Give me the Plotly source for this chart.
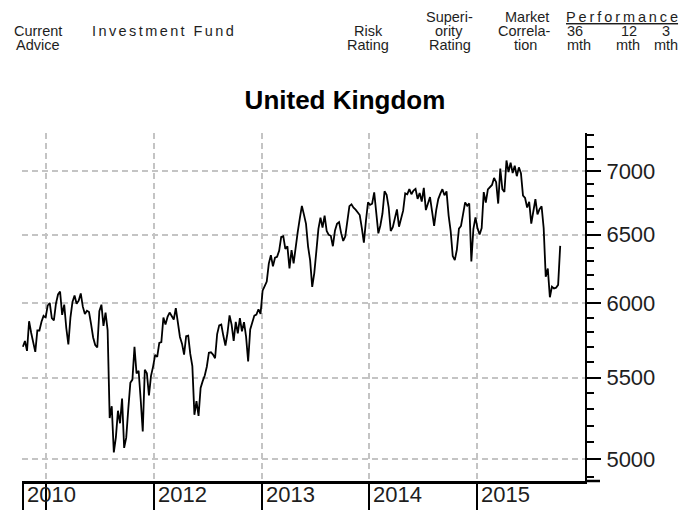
import math
import pandas as pd
import plotly.graph_objects as go

# ---------------- data (weekly index closes) ----------------
series_start = "2010-10-15"

ftse_2010 = [5703, 5741, 5675, 5875, 5797, 5732, 5669, 5813, 5812, 5872, 5912, 5900]
ftse_2011 = [5984, 6002, 5896, 5881, 5997, 6062, 6083, 5919, 5990, 5829, 5718, 5900,
             6009, 6055, 5996, 6018, 6069, 5976, 5925, 5948, 5938, 5855, 5765, 5714,
             5698, 5945, 5990, 5844, 5935, 5815, 5247, 5320, 5040, 5130, 5292, 5215,
             5368, 5067, 5128, 5303, 5467, 5488, 5702, 5527, 5545, 5362, 5165, 5552,
             5529, 5387, 5512, 5572]
ftse_2012 = [5649, 5636, 5729, 5734, 5901, 5852, 5905, 5935, 5912, 5887, 5966, 5854,
             5768, 5723, 5651, 5773, 5777, 5655, 5575, 5267, 5351, 5260, 5435, 5478,
             5514, 5571, 5663, 5666, 5651, 5627, 5788, 5847, 5853, 5776, 5711, 5795,
             5915, 5852, 5742, 5871, 5793, 5896, 5806, 5869, 5770, 5605, 5819, 5867,
             5914, 5921, 5958, 5926]
ftse_2013 = [6089, 6121, 6154, 6284, 6347, 6264, 6328, 6335, 6379, 6483, 6489, 6393,
             6412, 6249, 6384, 6286, 6426, 6522, 6625, 6723, 6654, 6583, 6411, 6308,
             6116, 6215, 6375, 6544, 6631, 6554, 6647, 6529, 6499, 6492, 6413, 6530,
             6583, 6596, 6512, 6453, 6487, 6623, 6721, 6735, 6708, 6693, 6675, 6651,
             6552, 6440, 6607, 6750]
ftse_2014 = [6731, 6740, 6829, 6663, 6510, 6572, 6663, 6838, 6810, 6712, 6528, 6557,
             6615, 6695, 6561, 6625, 6685, 6822, 6814, 6856, 6815, 6844, 6858, 6778,
             6825, 6757, 6866, 6690, 6749, 6792, 6679, 6567, 6689, 6776, 6820, 6855,
             6806, 6837, 6649, 6527, 6340, 6310, 6388, 6546, 6567, 6654, 6750, 6723,
             6742, 6300, 6545, 6633]
ftse_2015 = [6548, 6501, 6550, 6832, 6749, 6853, 6873, 6889, 6946, 6911, 6741, 7022,
             6855, 6833, 7089, 6994, 7070, 6986, 7046, 6960, 7032, 6984, 6804, 6785,
             6710, 6754, 6585, 6673, 6775, 6656, 6696, 6719, 6551, 6188, 6248, 6042,
             6117, 6105, 6110, 6130, 6416]

y_tick_values = [5000, 5500, 6000, 6500, 7000]
y_tick_labels = ["5000", "5500", "6000", "6500", "7000"]
y_minor_values = [v for v in range(4900, 7400, 100) if v % 500 != 0]

x_tick_dates = ["2010-10-15", "2011-01-01", "2012-01-01", "2013-01-01", "2014-01-01", "2015-01-01"]
x_tick_labels = ["2010", "", "2012", "2013", "2014", "2015"]

title_text = "United Kingdom"

# ---------------- build ----------------
values = ftse_2010 + ftse_2011 + ftse_2012 + ftse_2013 + ftse_2014 + ftse_2015
dates = pd.date_range(start=series_start, periods=len(values), freq="7D")

W, H = 690, 510
L, R, T, B = 22, 585, 133, 481
FONT = "Liberation Sans, Arial, Helvetica, sans-serif"
TXT = "#1e1e1e"
GRID = "#c4c4c4"


def px(x):
    return (x - L) / (R - L)


def py(y):
    return (B - y) / (B - T)


fig = go.Figure()
fig.add_trace(go.Scatter(x=dates, y=values, mode="lines",
                         line=dict(color="black", width=1.8),
                         hoverinfo="skip", showlegend=False))

fig.update_layout(
    width=W, height=H,
    margin=dict(l=L, r=W - R, t=T, b=H - B, autoexpand=False),
    paper_bgcolor="white", plot_bgcolor="white",
    showlegend=False,
    title=dict(text="<b>" + title_text + "</b>", x=345 / W, xanchor="center",
               y=1 - 100 / H, yanchor="middle",
               font=dict(family=FONT, size=26, color="black")),
    xaxis=dict(type="date", range=["2010-10-12", "2016-01-01"],
               tickmode="array", tickvals=x_tick_dates, ticktext=[""] * len(x_tick_dates),
               ticks="outside", ticklen=30, tickwidth=1.5, tickcolor="black",
               showgrid=True, gridcolor=GRID, gridwidth=1.5, griddash="6px,4px",
               showline=True, linecolor="black", linewidth=2.5,
               zeroline=False, fixedrange=True),
    yaxis=dict(type="log", side="right",
               range=[math.log10(4875), math.log10(7320)],
               tickmode="array", tickvals=y_tick_values, ticktext=y_tick_labels,
               ticks="outside", ticklen=14, tickwidth=2, tickcolor="black",
               ticklabelstandoff=1,
               tickfont=dict(family=FONT, size=22, color=TXT),
               showline=True, linecolor="black", linewidth=2,
               showgrid=True, gridcolor=GRID, gridwidth=1.5, griddash="6px,4px",
               minor=dict(tickmode="array", tickvals=y_minor_values, ticks="outside",
                          ticklen=7, tickwidth=2, tickcolor="black", showgrid=False),
               zeroline=False, fixedrange=True),
)

# x-axis baseline extension past the value axis
fig.add_shape(type="line", xref="paper", yref="paper", x0=1, x1=px(600), y0=0, y1=0,
              line=dict(color="black", width=2.5))

# year labels, left-aligned just right of their ticks
for d, lab in zip(x_tick_dates, x_tick_labels):
    if lab:
        fig.add_annotation(xref="x", yref="paper", x=d, y=py(495), text=lab,
                           showarrow=False, xanchor="left", yanchor="middle", xshift=2,
                           font=dict(family=FONT, size=22, color=TXT))

# header row
six = "\u2006"
thin = "\u2009"
header = [
    ("Current", 38, 31, "center"),
    ("Advice", 38, 45, "center"),
    (six.join("Investment Fund"), 91, 31, "left"),
    ("Risk", 368, 31, "center"),
    ("Rating", 368, 45, "center"),
    ("Superi-", 449, 17, "center"),
    ("ority", 449, 31, "center"),
    ("Rating", 450, 45, "center"),
    ("Market", 527, 17, "center"),
    ("Correla-", 524, 31, "center"),
    ("tion", 525, 45, "center"),
    ("<u>" + thin.join("Performance") + "</u>", 622, 17, "center"),
    ("36", 575, 31, "center"),
    ("12", 629, 31, "center"),
    ("3", 666, 31, "center"),
    ("mth", 579, 45, "center"),
    ("mth", 628, 45, "center"),
    ("mth", 666, 45, "center"),
]
for text, x, y, anchor in header:
    fig.add_annotation(xref="paper", yref="paper", x=px(x), y=py(y), text=text,
                       showarrow=False, xanchor=anchor, yanchor="middle",
                       borderpad=0,
                       font=dict(family=FONT, size=14.5, color=TXT))

fig.write_html("out.html",
               config={"displayModeBar": False},
               post_script="document.body.style.margin='0px';"
                           "document.body.style.overflow='hidden';")
